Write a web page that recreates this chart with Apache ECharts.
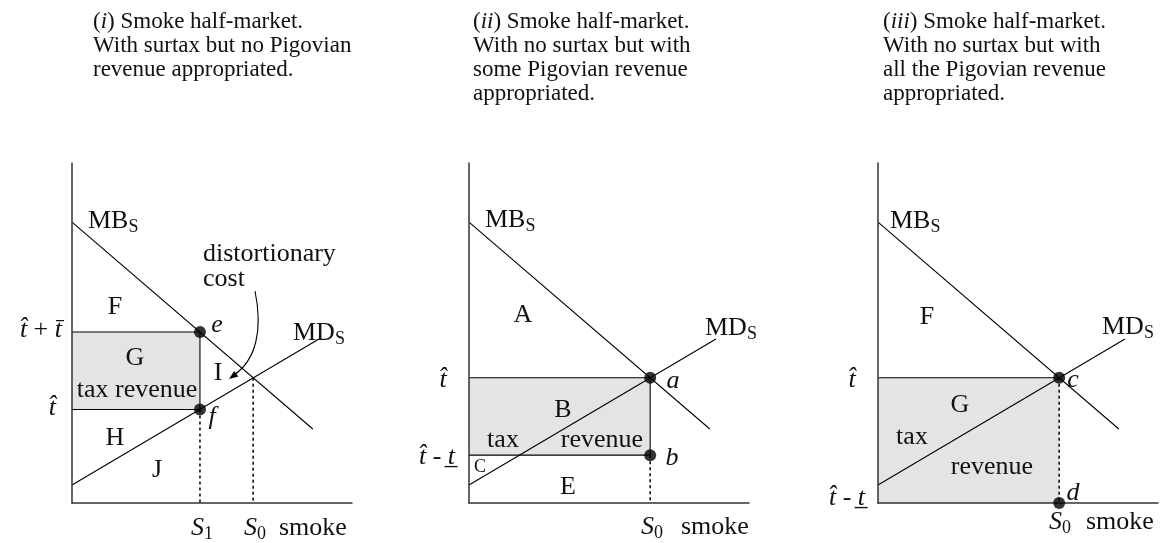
<!DOCTYPE html>
<html>
<head>
<meta charset="utf-8">
<script src="https://cdn.jsdelivr.net/npm/echarts@6/dist/echarts.min.js"></script>
<style>
  html, body { margin: 0; background: #fff; }
  #chart { width: 1160px; height: 543px; }
</style>
</head>
<body>
<div id="chart"></div>
<script>
// axis ranges (arbitrary units)
const X_MAX = 10;
const Y_MAX = 10.8;

// curves, shared by all three panels
const mbCurve = [[0, 8.92], [8.6, 2.35]];
const mdCurve = [[0, 0.57], [8.82, 5.21]];

// equilibrium without surtax
const s0 = 6.47;
const tHat = 3.98;

// panel (i): surtax
const s1 = 4.57;
const surtaxTop = 5.43;  // t^ + t-bar
const surtaxLow = 2.97;  // t^

// panel (ii): some revenue appropriated
const someLow = 1.52;    // t^ - t

// panel (iii): all revenue appropriated
const allLow = 0;

const titles = [
  '({it|i}) Smoke half-market.\nWith surtax but no Pigovian\nrevenue appropriated.',
  '({it|ii}) Smoke half-market.\nWith no surtax but with\nsome Pigovian revenue\nappropriated.',
  '({it|iii}) Smoke half-market.\nWith no surtax but with\nall the Pigovian revenue\nappropriated.'
];

const FONT = "'Liberation Serif', 'Times New Roman', serif";
const LS = 26;
const TS = 23;

const chart = echarts.init(document.getElementById('chart'));

const lefts = [72, 469, 878];
const grids = lefts.map(l => ({ left: l, top: 163, width: 280, height: 340 }));

const axisBase = {
  type: 'value',
  z: 5,
  axisLine: { show: true, lineStyle: { color: '#333', width: 1.5 } },
  axisTick: { show: false },
  axisLabel: { show: false },
  splitLine: { show: false }
};
const xAxes = grids.map((g, i) => Object.assign({}, axisBase, { gridIndex: i, min: 0, max: X_MAX }));
const yAxes = grids.map((g, i) => Object.assign({}, axisBase, { gridIndex: i, min: 0, max: Y_MAX }));

function line(gi, data, extra) {
  return Object.assign({
    type: 'line', xAxisIndex: gi, yAxisIndex: gi, data: data,
    symbol: 'none', silent: true, animation: false,
    lineStyle: { color: '#000', width: 1.1 }
  }, extra || {});
}
function dashed(gi, data) {
  return line(gi, data, { lineStyle: { color: '#000', width: 1.5, type: [3, 3] } });
}
function dots(gi, data) {
  return {
    type: 'scatter', xAxisIndex: gi, yAxisIndex: gi, data: data, clip: false,
    symbolSize: 12, itemStyle: { color: '#000' }, silent: true, animation: false, z: 6
  };
}
function rect(gi, edges, area) {
  return line(gi, edges, {
    markArea: {
      silent: true,
      itemStyle: { color: '#e4e4e6', borderWidth: 0 },
      data: [[{ coord: area[0] }, { coord: area[1] }]]
    }
  });
}

const series = [
  // (i)
  rect(0, [[0, surtaxTop], [s1, surtaxTop], [s1, surtaxLow], [0, surtaxLow]], [[0, surtaxTop], [s1, surtaxLow]]),
  line(0, mbCurve), line(0, mdCurve),
  dashed(0, [[s1, surtaxLow], [s1, 0]]),
  dashed(0, [[s0, tHat], [s0, 0]]),
  dots(0, [[s1, surtaxTop], [s1, surtaxLow]]),
  // (ii)
  rect(1, [[0, tHat], [s0, tHat], [s0, someLow], [0, someLow]], [[0, tHat], [s0, someLow]]),
  line(1, mbCurve), line(1, mdCurve),
  dashed(1, [[s0, someLow], [s0, 0]]),
  dots(1, [[s0, tHat], [s0, someLow]]),
  // (iii)
  rect(2, [[0, tHat], [s0, tHat]], [[0, tHat], [s0, allLow]]),
  line(2, mbCurve), line(2, mdCurve),
  dashed(2, [[s0, tHat], [s0, allLow]]),
  dots(2, [[s0, tHat], [s0, allLow]])
];

const rich = {
  m: { fontFamily: FONT, fontSize: LS, lineHeight: 28 },
  i: { fontFamily: FONT, fontSize: LS, fontStyle: 'italic', lineHeight: 28 },
  s: { fontFamily: FONT, fontSize: 18, lineHeight: 18, padding: [13, 0, 0, 0] },
  it: { fontFamily: FONT, fontSize: TS, fontStyle: 'italic', lineHeight: 24 }
};

function txt(x, y, text, align, size, italic) {
  return {
    type: 'text', x: x, y: y, silent: true, z: 20,
    style: {
      text: text, fill: '#111', fontFamily: FONT, fontSize: size || LS,
      fontStyle: italic ? 'italic' : 'normal',
      textAlign: align || 'center', textVerticalAlign: 'middle',
      lineHeight: 25, rich: rich
    }
  };
}
const mbLabel = '{m|MB}{s|S}';
const mdLabel = '{m|MD}{s|S}';
const tHatLabel = '{i|t\u0302}';
const s0Label = '{i|S}{s|0}';

const graphics = [
  // titles
  ...titles.map((t, k) => ({
    type: 'text', x: [93, 473, 883][k], y: 10, silent: true,
    style: {
      text: t, fill: '#111', fontFamily: FONT, fontSize: TS, lineHeight: 24,
      textAlign: 'left', textVerticalAlign: 'top', rich: rich
    }
  })),
  // (i)
  txt(88, 221, mbLabel, 'left'),
  txt(203, 267, 'distortionary\ncost', 'left'),
  txt(115, 307, 'F'), txt(135, 358, 'G'), txt(137, 390, 'tax revenue'),
  txt(218, 373, 'I'), txt(115, 438, 'H'), txt(157, 470, 'J'),
  txt(217, 325, 'e', 'center', LS, true), txt(212, 417, 'f', 'center', LS, true),
  txt(293, 333, mdLabel, 'left'),
  txt(62, 330, '{i|t\u0302} + {i|t\u0304}', 'right'),
  txt(56, 408, tHatLabel, 'right'),
  txt(202, 528, '{i|S}{s|1}'), txt(255, 528, s0Label), txt(279, 528, 'smoke', 'left'),
  {
    type: 'bezierCurve', silent: true, z: 20,
    shape: { x1: 255, y1: 291, cpx1: 263, cpy1: 330, cpx2: 256, cpy2: 360, x2: 234, y2: 375 },
    style: { stroke: '#000', lineWidth: 1.1, fill: null }
  },
  {
    type: 'polygon', silent: true, z: 20,
    shape: { points: [[229, 379], [238.4, 376.5], [234.2, 370.9]] },
    style: { fill: '#000' }
  },
  // (ii)
  txt(485, 220, mbLabel, 'left'),
  txt(523, 315, 'A'),
  txt(705, 328, mdLabel, 'left'),
  txt(443, 380, tHatLabel),
  txt(673, 381, 'a', 'center', LS, true),
  txt(563, 410, 'B'), txt(503, 440, 'tax'), txt(602, 440, 'revenue'),
  txt(437, 457, '{i|t\u0302} - {i|t\u0332}'),
  txt(480, 467, 'C', 'center', 18),
  txt(672, 458, 'b', 'center', LS, true),
  txt(568, 487, 'E'),
  txt(652, 527, s0Label), txt(681, 527, 'smoke', 'left'),
  // (iii)
  txt(890, 221, mbLabel, 'left'),
  txt(927, 317, 'F'),
  txt(1102, 327, mdLabel, 'left'),
  txt(852, 380, tHatLabel),
  txt(1073, 380, 'c', 'center', LS, true),
  txt(960, 405, 'G'), txt(912, 437, 'tax'), txt(992, 467, 'revenue'),
  txt(1073, 493, 'd', 'center', LS, true),
  txt(847, 498, '{i|t\u0302} - {i|t\u0332}'),
  txt(1060, 522, s0Label), txt(1086, 522, 'smoke', 'left')
];

chart.setOption({
  animation: false,
  backgroundColor: '#fff',
  grid: grids,
  xAxis: xAxes,
  yAxis: yAxes,
  series: series,
  graphic: graphics
});
</script>
</body>
</html>
